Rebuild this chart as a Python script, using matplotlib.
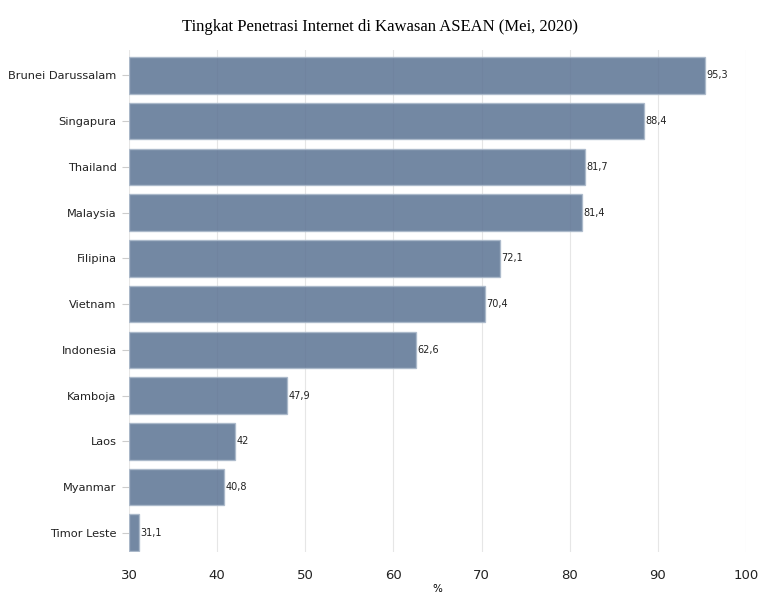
import matplotlib
matplotlib.use("Agg")
import matplotlib.pyplot as plt

countries = ["Brunei Darussalam", "Singapura", "Thailand", "Malaysia", "Filipina",
             "Vietnam", "Indonesia", "Kamboja", "Laos", "Myanmar", "Timor Leste"]
values = [95.3, 88.4, 81.7, 81.4, 72.1, 70.4, 62.6, 47.9, 42, 40.8, 31.1]
labels = ["95,3", "88,4", "81,7", "81,4", "72,1", "70,4", "62,6", "47,9", "42", "40,8", "31,1"]
xticks = [30, 40, 50, 60, 70, 80, 90, 100]
base = 30

fig = plt.figure(figsize=(7.59, 5.98), dpi=100)
ax = fig.add_axes([0.170, 0.077, 0.813, 0.839])

n = len(countries)
ypos = [n - 1 - i for i in range(n)]
ax.set_axisbelow(True)
ax.grid(axis="x", color="#e6e6e6", linewidth=0.8)
ax.barh(ypos, [v - base for v in values], left=base, height=0.8,
        color="#5b7393", alpha=0.85, edgecolor="#a9b8ca", linewidth=1)
for y, v, lab in zip(ypos, values, labels):
    ax.text(v + 0.15, y, lab, va="center", ha="left", fontsize=7, color="#222222")

ax.set_xlim(30, 100)
ax.set_ylim(-0.42, n - 1 + 0.55)
ax.set_xticks(xticks)
ax.set_xticklabels([str(t) for t in xticks], fontsize=9.5, color="#222222")
ax.set_yticks(ypos)
ax.set_yticklabels(countries, fontsize=8.2, color="#222222")
ax.tick_params(axis="y", length=5, color="#cccccc", width=0.8, pad=4)
ax.tick_params(axis="x", length=0, pad=12)
for s in ax.spines.values():
    s.set_visible(False)
ax.set_xlabel("%", fontsize=7.5, labelpad=2)

fig.suptitle("Tingkat Penetrasi Internet di Kawasan ASEAN (Mei, 2020)",
             fontfamily="Liberation Serif", fontsize=12, y=0.968)

fig.savefig("out.png", dpi=100)
